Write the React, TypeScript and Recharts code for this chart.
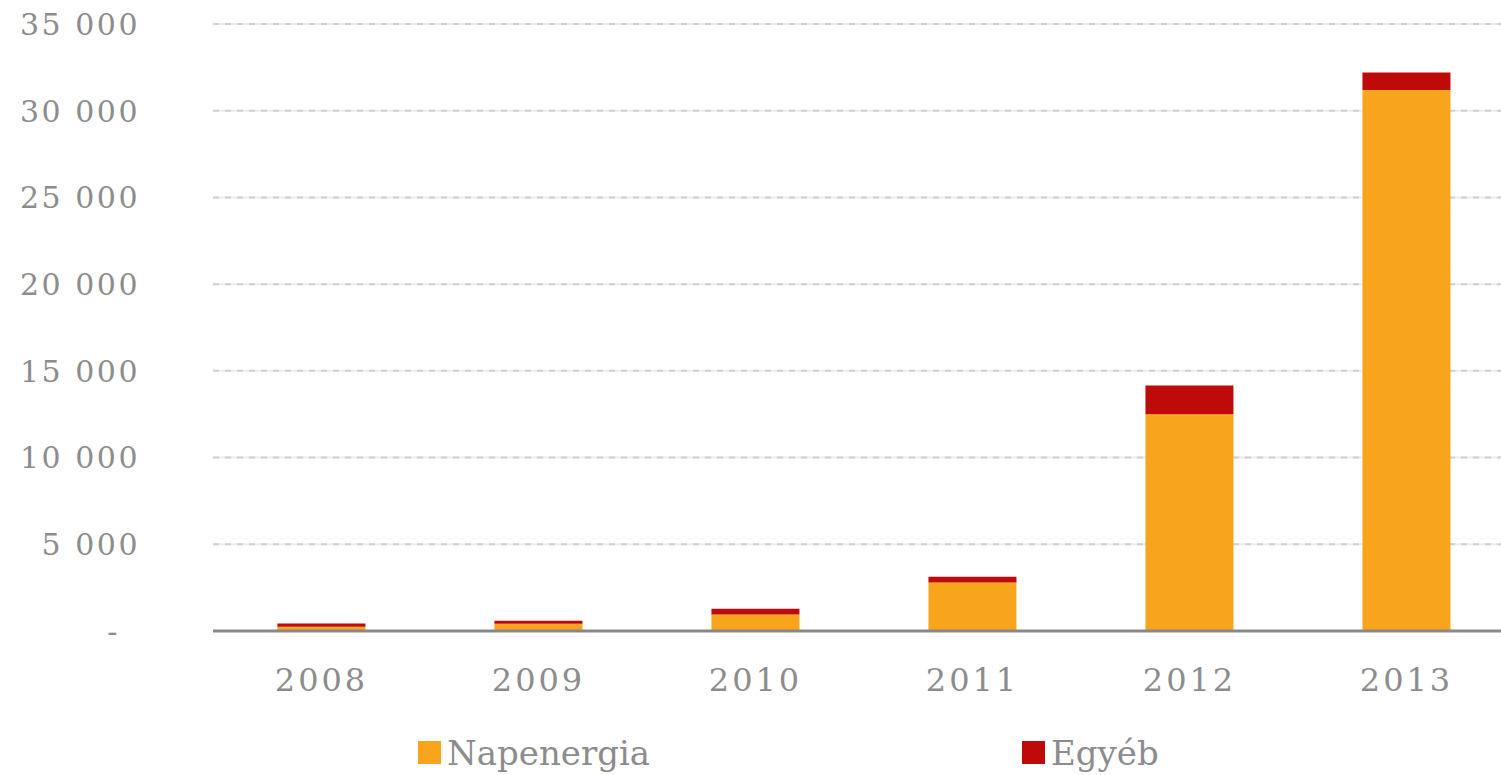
import React from 'react';
import { BarChart, Bar, XAxis, YAxis, CartesianGrid, Legend } from 'recharts';

const years = ['2008', '2009', '2010', '2011', '2012', '2013'];
const napenergia = [250, 420, 950, 2800, 12500, 31200];
const egyeb = [180, 170, 330, 330, 1650, 1000];
const yTicks = [0, 5000, 10000, 15000, 20000, 25000, 30000, 35000];

const rows = years.map((year, i) => ({ year, napenergia: napenergia[i], egyeb: egyeb[i] }));

const FONT = '"DejaVu Serif", Georgia, serif';
const GRAY = '#8c8c8c';

const fmt = (v: number) => (v === 0 ? '-' : v.toLocaleString('en-US').replace(/,/g, ' '));

const YTick = (props: any) => {
  const { x, y, payload } = props;
  const zero = payload.value === 0;
  return (
    <text
      x={zero ? x - 20 : x}
      y={y}
      dy="0.36em"
      textAnchor="end"
      fill={GRAY}
      fontFamily={FONT}
      fontSize={30}
      letterSpacing={2.5}
    >
      {fmt(payload.value)}
    </text>
  );
};

const legendLeft: Record<string, number> = { napenergia: 418, egyeb: 1022 };

const LegendContent = (props: any) => {
  const items = props.payload || [];
  return (
    <div style={{ position: 'relative', height: 45, width: 1501 }}>
      {items.map((it: any) => (
        <div
          key={it.dataKey}
          style={{
            position: 'absolute',
            left: legendLeft[it.dataKey],
            top: 0,
            display: 'flex',
            alignItems: 'center',
            height: 45,
          }}
        >
          <span style={{ display: 'inline-block', width: 23, height: 23, background: it.color, marginRight: 6 }} />
          <span style={{ fontFamily: FONT, fontSize: 34, color: GRAY }}>{it.value}</span>
        </div>
      ))}
    </div>
  );
};

export default function App() {
  return (
    <div style={{ position: 'absolute', left: 0, top: 0, background: '#fff' }}>
      <BarChart
        width={1501}
        height={775}
        data={rows}
        margin={{ top: 24, right: -14, bottom: 0, left: 0 }}
        barCategoryGap="29.7%"
      >
        <CartesianGrid vertical={false} stroke="#ececec" strokeWidth={2} />
        <CartesianGrid vertical={false} stroke="#cfcfcf" strokeWidth={2} strokeDasharray="6 6" />
        <XAxis
          dataKey="year"
          height={99}
          axisLine={{ stroke: '#888888', strokeWidth: 3 }}
          tickLine={false}
          tickSize={0}
          tickMargin={37}
          tick={{ fill: GRAY, fontFamily: FONT, fontSize: 32, letterSpacing: 3 }}
        />
        <YAxis
          width={213}
          domain={[0, 35000]}
          ticks={yTicks}
          axisLine={false}
          tickLine={false}
          tickSize={0}
          tickMargin={73}
          tick={<YTick />}
        />
        <Legend content={<LegendContent />} wrapperStyle={{ left: 0, top: 730, width: 1501 }} />
        <Bar dataKey="napenergia" name="Napenergia" stackId="a" fill="#F8A51D" isAnimationActive={false} />
        <Bar dataKey="egyeb" name="Egyéb" stackId="a" fill="#BF0A0A" isAnimationActive={false} />
      </BarChart>
    </div>
  );
}
